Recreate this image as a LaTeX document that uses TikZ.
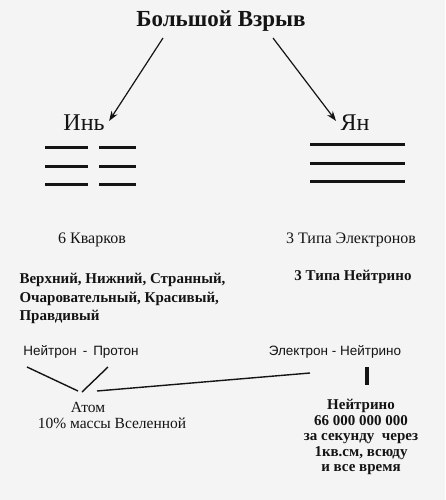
\documentclass[tikz,border=0pt]{standalone}
\usepackage{fontspec}
\setmainfont{Liberation Serif}
\newfontfamily\labelsans{Liberation Sans}
\usetikzlibrary{positioning, arrows, arrows.meta}
\definecolor{paper}{HTML}{F4F4F4}
\definecolor{ink}{HTML}{141414}
\tikzset{
>= {Stealth[length=10pt, width=7pt]}, % arrow heads
title/.style={font=\fontsize{23}{26}\selectfont\bfseries, text=ink}, % the big heading
side/.style={font=\fontsize{24}{27}\selectfont, text=ink}, % Yin and Yang
body/.style={font=\fontsize{16}{18}\selectfont, text=ink, align=center}, % normal text
bodybf/.style={font=\fontsize{15}{15.5}\selectfont\bfseries, text=ink, align=center}, % bold text
pair/.style={font=\labelsans\fontsize{13.5}{15}\selectfont, text=ink}, % particle pairs
bar/.style={ink, line width=3pt}, % trigram lines
link/.style={ink, line width=1.4pt}, % connecting lines
}

\begin{document}
\begin{tikzpicture}[x=1pt, y=-1pt]
\fill[paper] (0,0) rectangle (445,500);
\useasboundingbox (0,0) rectangle (445,500);
\node[title] (bang) at (221,21) {Большой Взрыв};
\node[side] (yin) at (84,123) {Инь};
\node[side] (yang) at (355,123) {Ян};
\coordinate (bangleft) at (163,38);
\coordinate (bangright) at (273,38);
\draw[->, link, line width=1.2pt] (bangleft) -- ([xshift=1pt, yshift=2pt]yin.east);
\draw[->, link, line width=1.2pt] (bangright) -- ([xshift=-1pt, yshift=2pt]yang.west);
% yin lines
\foreach \y in {147,166,184} {
  \draw[bar] (45,\y) -- (88,\y);
  \draw[bar] (99,\y) -- (136,\y);
}
% yang lines
\foreach \y in {144,163,181}
  \draw[bar] (310,\y) -- (405,\y);
\node[body] (quarks) at (92,240) {6 Кварков};
\node[body] (electrons) at (351,240) {3 Типа Электронов};
\node[bodybf, font=\fontsize{15}{18.5}\selectfont\bfseries, align=left, anchor=north west] (names) at (16,270) {Верхний, Нижний, Странный,\\Очаровательный, Красивый,\\Правдивый};
\node[bodybf] (nutypes) at (353,277) {3 Типа Нейтрино};
\node[pair] (np) at (81,352) {Нейтрон \,-\, Протон};
\node[pair] (en) at (335,352) {Электрон - Нейтрино};
\node[body, font=\fontsize{15.5}{17}\selectfont] (atom) at (88,407) {Атом};
\node[body, font=\fontsize{15.5}{17}\selectfont] (atommass) at (112,423) {10\% массы Вселенной};
\node[bodybf] (nu) at (361,437) {Нейтрино\\66 000 000 000\\за секунду \ через\\1кв.см, всюду\\и все время};
% lines to the atom
\coordinate (npleft) at (27,367);
\coordinate (npright) at (108,367);
\coordinate (atomleft) at (78,391);
\coordinate (atomtop) at (82,392);
\coordinate (atomright) at (97,391);
\coordinate (enleft) at (310,373);
\coordinate (entop) at (367,367);
\coordinate (enbot) at (367,385);
\draw[link] (npleft) -- (atomleft);
\draw[link] (npright) -- (atomtop);
\draw[link] (atomright) -- (enleft);
\draw[ink, line width=4pt] (entop) -- (enbot);
\end{tikzpicture}
\end{document}
